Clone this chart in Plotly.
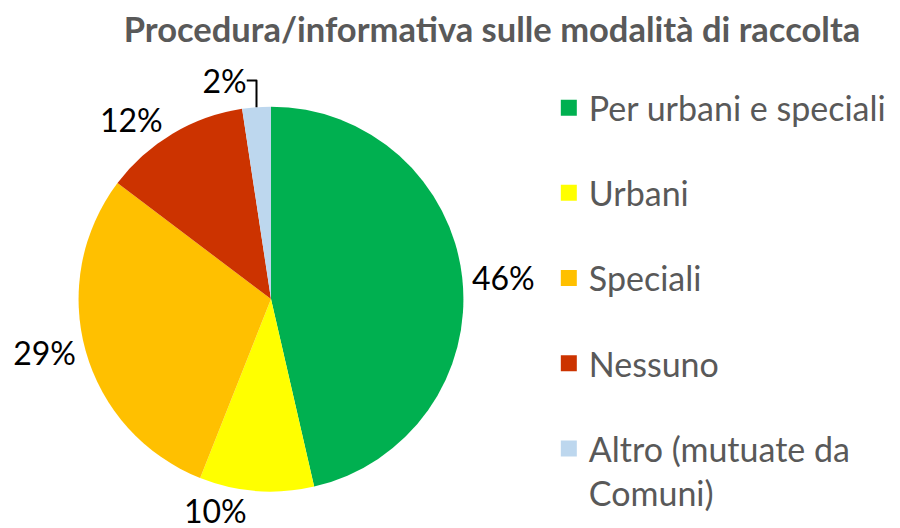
import plotly.graph_objects as go

categories = ["Per urbani e speciali", "Urbani", "Speciali", "Nessuno", "Altro (mutuate da Comuni)"]
legend_labels = ["Per urbani e speciali", "Urbani", "Speciali", "Nessuno", "Altro (mutuate da<br>Comuni)"]
values = [46.4, 9.6, 29.3, 12.3, 2.4]
colors = ["#00B050", "#FFFF00", "#FFC000", "#CC3300", "#BDD7EE"]
title = "Procedura/informativa sulle modalità di raccolta"

FONT = "Lato"

fig = go.Figure()
fig.add_trace(go.Pie(
    labels=categories,
    values=values,
    sort=False,
    direction="clockwise",
    rotation=0,
    marker=dict(colors=colors, line=dict(width=0)),
    textposition="outside",
    texttemplate="%{percent:.0%}",
    textfont=dict(family=FONT, size=32, color="#000000"),
    outsidetextfont=dict(family=FONT, size=32, color="#000000"),
    domain=dict(x=[64/900, 452/900], y=[38/528, 428/528]),
    showlegend=False,
    hoverinfo="label+percent",
))

for i, (lab, col) in enumerate(zip(legend_labels, colors)):
    fig.add_trace(go.Scatter(
        x=[None], y=[None], mode="markers", name=lab,
        marker=dict(symbol="square", size=20, color=col),
        legendgroup="g%d" % i, showlegend=True,
    ))

fig.update_layout(
    width=900, height=528,
    margin=dict(l=0, r=0, t=0, b=0),
    paper_bgcolor="white", plot_bgcolor="white",
    title=dict(text="<b>" + title + "</b>", x=484/900, xanchor="center",
               y=1 - 22/528, yanchor="middle",
               font=dict(family=FONT, size=34.5, color="#595959")),
    legend=dict(x=538/900, xanchor="left", y=1 - 72/528, yanchor="top",
                font=dict(family=FONT, size=34, color="#595959"),
                traceorder="grouped", tracegroupgap=38, valign="top",
                bgcolor="rgba(0,0,0,0)"),
    xaxis=dict(visible=False),
    yaxis=dict(visible=False),
)

fig.write_html("out.html")
